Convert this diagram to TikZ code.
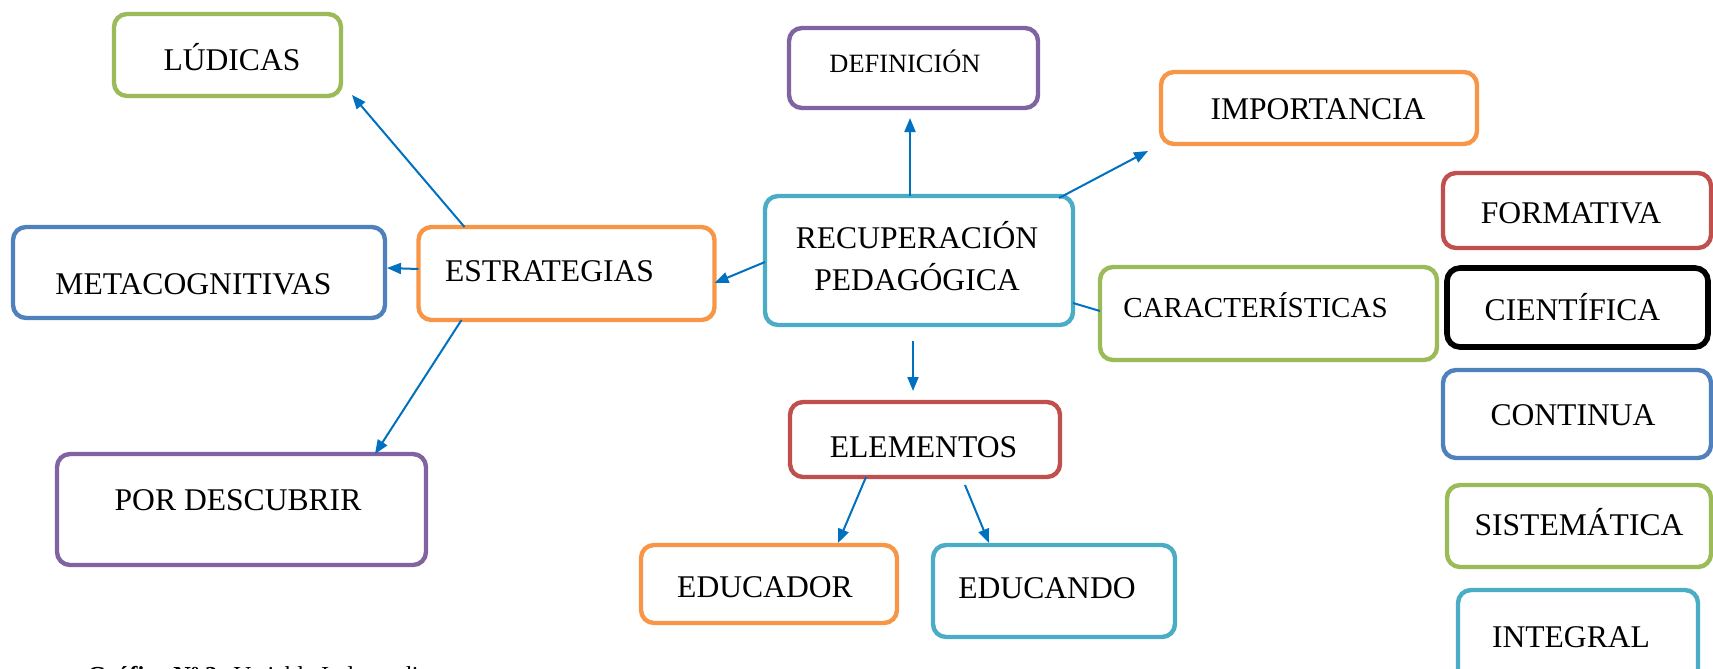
\documentclass[tikz,border=0pt]{standalone}
\usepackage{fontspec}
\setmainfont{Liberation Serif}
\usetikzlibrary{arrows.meta}
\definecolor{cgrn}{HTML}{9BBB59}
\definecolor{cpur}{HTML}{8064A2}
\definecolor{corg}{HTML}{F79646}
\definecolor{cred}{HTML}{C0504D}
\definecolor{cblu}{HTML}{4F81BD}
\definecolor{ctea}{HTML}{4BACC6}
\definecolor{carr}{HTML}{0070C0}
\begin{document}
\begin{tikzpicture}[x=0.5pt,y=-0.5pt,
  box/.style={draw=#1, line width=2.2pt, rounded corners=6.5pt, outer sep=0pt, inner sep=0pt, fill=white},
  lbl/.style={anchor=base, inner sep=0pt, font=\fontsize{15.8}{19}\selectfont},
  arr/.style={draw=carr, line width=1pt, -{Triangle[length=7pt,width=5.5pt]}},
  lnk/.style={draw=carr, line width=1pt}]
\useasboundingbox (0,0) rectangle (1713,669);
% boxes
\node[box=cgrn, minimum width=113.5pt, minimum height=41pt] (lud) at (227.5,55) {};
\node[box=cpur, minimum width=124.5pt, minimum height=40pt] (def) at (913.5,68) {};
\node[box=corg, minimum width=158pt, minimum height=36pt] (imp) at (1319,108) {};
\node[box=cred, minimum width=134pt, minimum height=37.5pt] (form) at (1577,210.5) {};
\node[box=ctea, minimum width=154pt, minimum height=64.5pt] (rec) at (919,260.5) {};
\node[box=cblu, minimum width=186pt, minimum height=45.5pt] (meta) at (199,272.5) {};
\node[box=corg, minimum width=148pt, minimum height=46.5pt] (estr) at (566.5,273.5) {};
\node[box=cgrn, minimum width=168.5pt, minimum height=46.5pt] (car) at (1268.5,313.5) {};
\node[box=black, line width=2.8pt, minimum width=130.5pt, minimum height=39.5pt] (cien) at (1577.5,307.5) {};
\node[box=cblu, minimum width=134pt, minimum height=44pt] (cont) at (1577,414) {};
\node[box=cred, minimum width=135pt, minimum height=37.5pt] (elem) at (925,439.5) {};
\node[box=cpur, minimum width=184.5pt, minimum height=55.5pt] (desc) at (241.5,509.5) {};
\node[box=cgrn, minimum width=132pt, minimum height=41pt] (sist) at (1579,526) {};
\node[box=corg, minimum width=128pt, minimum height=39pt] (edor) at (769,584) {};
\node[box=ctea, minimum width=121pt, minimum height=46pt] (endo) at (1054,591) {};
\node[box=ctea, minimum width=120pt, minimum height=50pt] (integ) at (1578,640) {};
% texts
\node[lbl] (lud-t) at (232,70) {LÚDICAS};
\node[lbl, font=\fontsize{13.2}{16}\selectfont] (def-t) at (905,72) {DEFINICIÓN};
\node[lbl] (imp-t) at (1318,119) {IMPORTANCIA};
\node[lbl] (form-t) at (1571,223) {FORMATIVA};
\node[lbl] (rec-t1) at (917,248) {RECUPERACIÓN};
\node[lbl] (rec-t2) at (917,290) {PEDAGÓGICA};
\node[lbl] (meta-t) at (193.5,294) {METACOGNITIVAS};
\node[lbl] (estr-t) at (549.5,281) {ESTRATEGIAS};
\node[lbl, font=\fontsize{14.5}{17}\selectfont] (car-t) at (1255.5,317) {CARACTERÍSTICAS};
\node[lbl] (cien-t) at (1572.5,320) {CIENTÍFICA};
\node[lbl] (cont-t) at (1573,425) {CONTINUA};
\node[lbl] (elem-t) at (923.5,457) {ELEMENTOS};
\node[lbl] (desc-t) at (238,510) {POR DESCUBRIR};
\node[lbl] (sist-t) at (1579,535) {SISTEMÁTICA};
\node[lbl] (edor-t) at (765,597) {EDUCADOR};
\node[lbl] (endo-t) at (1047,598) {EDUCANDO};
\node[lbl] (integ-t) at (1571,647) {INTEGRAL};
% caption (cut by the page edge, as in the reference)
\node[anchor=base west, inner sep=0pt, font=\fontsize{12.2}{14}\selectfont] (cap) at (87,683) {\textbf{Gráfico Nº 2:} Variable Independiente};
% connectors
\draw[arr] ([xshift=23pt]estr.north west) -- ([xshift=5.5pt,yshift=0.5pt]lud.south east);
\draw[arr] ([yshift=2.25pt]estr.west) -- ([yshift=2.25pt,xshift=1pt]meta.east);
\draw[arr] ([xshift=21.5pt]estr.south west) -- ([xshift=159pt]desc.north west);
\draw[arr] ([yshift=-0.75pt]rec.west) -- ([yshift=-4.75pt]estr.east);
\draw[arr] ([xshift=-4.5pt]rec.north) -- ([xshift=-1.75pt,yshift=-5pt]def.south);
\draw[arr] ([xshift=-7pt,yshift=-1pt]rec.north east) -- ([xshift=-6.5pt,yshift=-3.5pt]imp.south west);
\draw[lnk] ([yshift=-21.25pt]rec.east) -- ([yshift=1.25pt]car.west);
\draw[arr] ([xshift=-3pt,yshift=-8pt]rec.south) -- ([xshift=-6pt,yshift=5.5pt]elem.north);
\draw[arr] ([xshift=38pt]elem.south west) -- ([xshift=98.5pt,yshift=1pt]edor.north west);
\draw[arr] ([xshift=87.5pt,yshift=-4pt]elem.south west) -- ([xshift=28pt,yshift=1pt]endo.north west);
\end{tikzpicture}
\end{document}
